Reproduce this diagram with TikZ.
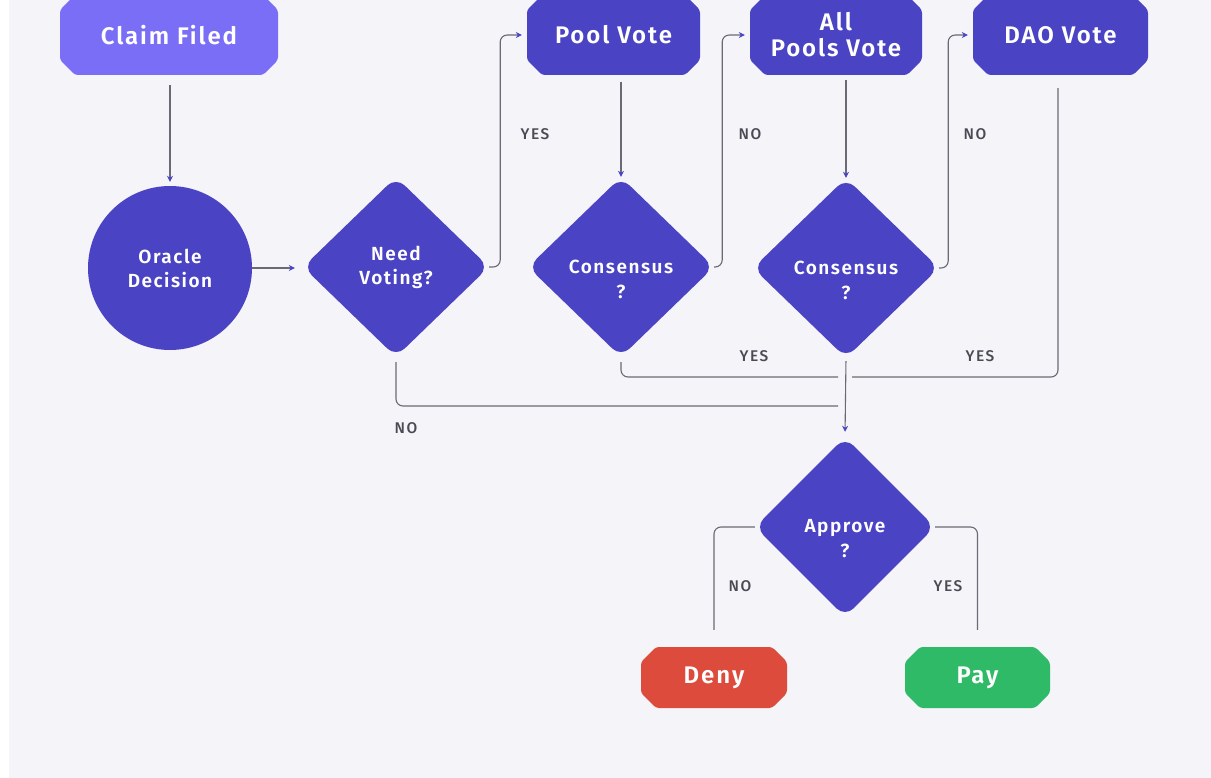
\documentclass[tikz,border=0pt]{standalone}
\usepackage{fontspec}
\setmainfont{Fira Sans}
\newfontfamily\semib{Fira Sans SemiBold}[LetterSpace=8]
\newfontfamily\medf{Fira Sans Medium}[LetterSpace=10]
\usetikzlibrary{shapes.geometric,arrows.meta,calc}
\definecolor{bgc}{HTML}{F4F4F9}
\definecolor{purp}{HTML}{4A43C3}
\definecolor{lpurp}{HTML}{7B6EF6}
\definecolor{redc}{HTML}{DC4B3B}
\definecolor{greenc}{HTML}{2EBA66}
\definecolor{linec}{HTML}{6A6A76}
\definecolor{labc}{HTML}{4A4A55}
\pgfdeclarelayer{back}
\pgfsetlayers{back,main}
\begin{document}
\begin{tikzpicture}[x=1pt,y=-1pt,
  boxnode/.style={rectangle, inner sep=0pt, text=white, font=\semib\fontsize{24}{26}\selectfont, align=center,
    path picture={\fill[#1, rounded corners=3pt]
      let \p1=(path picture bounding box.south west), \p2=(path picture bounding box.north east) in
      (\x1+15pt,\y1) -- (\x2-15pt,\y1) -- (\x2,\y1+15pt) -- (\x2,\y2-15pt) -- (\x2-15pt,\y2)
      -- (\x1+15pt,\y2) -- (\x1,\y2-15pt) -- (\x1,\y1+15pt) -- cycle;}},
  boxnode/.default=purp,
  dnode/.style={diamond, aspect=1, rounded corners=12pt, fill=purp, inner sep=0pt,
    minimum width=186pt, minimum height=180pt, text=white, font=\semib\fontsize{19}{24}\selectfont, align=center},
  dtext/.style={text=white, font=\semib\fontsize{19}{25}\selectfont, align=center, inner sep=0pt},
  conn/.style={draw=linec, line width=1.1pt, rounded corners=7pt},
  arr/.style={conn, -{Stealth[length=6pt,width=6pt,color=purp]}},
  lab/.style={text=labc, font=\medf\fontsize{15.5}{16}\selectfont, inner sep=0pt}]
\useasboundingbox (0,0) rectangle (1211,778);

% nodes
\node[boxnode=lpurp, minimum width=218pt, minimum height=80pt] (claim) at (169,35) {Claim Filed};
\node[circle, fill=purp, minimum size=164pt, inner sep=0pt, text=white, align=center,
      font=\semib\fontsize{19}{24}\selectfont] (oracle) at (170,268) {Oracle\\Decision};
\node[dnode] (need) at (396,267) {Need\\Voting?};
\node[boxnode, minimum width=173pt, minimum height=80pt] (pool) at (613.5,35) {Pool Vote};
\node[dnode] (c1) at (621,267) {};
\node[dtext] (c1t) at ([yshift=-12pt]c1.center) {Consensus\\?};
\node[boxnode, minimum width=172pt, minimum height=80pt] (allp) at (836,35) {All\\Pools Vote};
\node[dnode] (c2) at (846,268) {};
\node[dtext] (c2t) at ([yshift=-12pt]c2.center) {Consensus\\?};
\node[boxnode, minimum width=175pt, minimum height=80pt] (dao) at (1060.5,35) {DAO Vote};
\node[dnode, minimum width=180pt, minimum height=180pt] (appr) at (845,527) {};
\node[dtext] (apprt) at ([yshift=-12pt]appr.center) {Approve\\?};
\node[boxnode=redc, minimum width=146pt, minimum height=61pt] (deny) at (714,677.5) {Deny};
\node[boxnode=greenc, minimum width=145pt, minimum height=61pt] (pay) at (977.5,677.5) {Pay};

\coordinate (jr) at (852,377);
\coordinate (jl) at (838,377);
\coordinate (jn) at (838,406);

% labels
\node[lab] (l1) at (535,134) {YES};
\node[lab] (l2) at (750,134) {NO};
\node[lab] (l3) at (975,134) {NO};
\node[lab] (l4) at (754,356) {YES};
\node[lab] (l5) at (980,356) {YES};
\node[lab] (l6) at (406,428) {NO};
\node[lab] (l7) at (740,586) {NO};
\node[lab] (l8) at (948,586) {YES};

\begin{pgfonlayer}{back}
\fill[bgc] (0,0) rectangle (1211,778);
\fill[white] (0,0) rectangle (9,778);
\draw[arr, shorten <=10pt, shorten >=4pt] (claim.south -| oracle.north) -- (oracle.north);
\draw[arr, shorten >=8pt] (oracle.east) -- (oracle.east -| need.west);
\draw[arr, shorten >=5pt] (need.east) -- ++(11,0) |- (pool.west);
\draw[arr, shorten <=7pt] (pool.south -| c1.north) -- (c1.north);
\draw[arr, shorten >=5pt] (c1.east) -- ++(8,0) |- (allp.west);
\draw[arr, shorten <=5pt] (allp.south -| c2.north) -- (c2.north);
\draw[arr, shorten >=5pt] (c2.east) -- ++(9,0) |- (dao.west);
\draw[conn, shorten <=13pt] (dao.south -| 1058,0) |- (jr);
\draw[conn, shorten <=5pt] (c1.south) |- (jl);
\draw[conn, shorten <=5pt] (need.south) |- (jn);
\draw[arr, shorten <=3pt, shorten >=5pt] (c2.south) -- (appr.north);
\draw[conn, shorten >=17pt] (appr.west) -| (deny.north);
\draw[conn, shorten >=17pt] (appr.east) -| (pay.north);
\end{pgfonlayer}
\end{tikzpicture}
\end{document}
